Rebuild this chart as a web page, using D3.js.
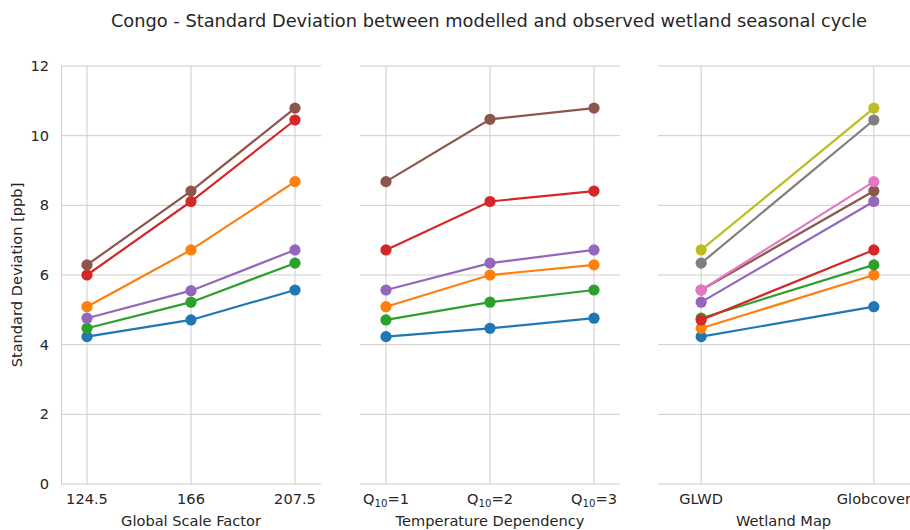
<!DOCTYPE html>
<html><head><meta charset="utf-8">
<script src="https://cdn.jsdelivr.net/npm/d3@7"></script>
<style>body{margin:0;background:#fff}svg{display:block}text{font-family:"DejaVu Sans",sans-serif;fill:#262626}</style>
</head><body><svg id="c" width="910" height="530"></svg>
<script>
const title = "Congo - Standard Deviation between modelled and observed wetland seasonal cycle";
const yLabel = "Standard Deviation [ppb]";
const yTicks = [0, 2, 4, 6, 8, 10, 12];
const colors = ["#1f77b4","#ff7f0e","#2ca02c","#d62728","#9467bd","#8c564b","#e377c2","#7f7f7f","#bcbd22"];

// Panel 1: Global Scale Factor
const p1Cats = ["124.5", "166", "207.5"];
const p1Series = [
  [4.23, 4.71, 5.57],
  [5.09, 6.72, 8.68],
  [4.47, 5.22, 6.34],
  [6.00, 8.11, 10.45],
  [4.76, 5.55, 6.72],
  [6.29, 8.41, 10.79]
];
// Panel 2: Temperature Dependency
const p2Cats = ["1", "2", "3"];
const p2Series = [
  [4.23, 4.47, 4.76],
  [5.09, 6.00, 6.29],
  [4.71, 5.22, 5.57],
  [6.72, 8.11, 8.41],
  [5.57, 6.34, 6.72],
  [8.68, 10.47, 10.79]
];
// Panel 3: Wetland Map
const p3Cats = ["GLWD", "Globcover"];
const p3Series = [
  [4.23, 5.09],
  [4.47, 6.00],
  [4.76, 6.29],
  [4.71, 6.72],
  [5.22, 8.11],
  [5.57, 8.41],
  [5.57, 8.68],
  [6.34, 10.45],
  [6.72, 10.79]
];
const panels = [
  {cats: p1Cats, series: p1Series, label: "Global Scale Factor", x0: 61, x1: 321, q: false},
  {cats: p2Cats, series: p2Series, label: "Temperature Dependency", x0: 360, x1: 620, q: true},
  {cats: p3Cats, series: p3Series, label: "Wetland Map", x0: 658, x1: 917, q: false}
];

const svg = d3.select("#c");
const y = d3.scaleLinear().domain([0, 12]).range([484, 66]);
const fs = "14.6px";

svg.append("text").attr("x", 489).attr("y", 27).attr("text-anchor", "middle")
  .style("font-size", "17.8px").text(title);

svg.append("text").attr("transform", "translate(22,275) rotate(-90)")
  .attr("text-anchor", "middle").style("font-size", fs).text(yLabel);

panels.forEach((p, pi) => {
  const x = d3.scalePoint().domain(p.cats).range([p.x0, p.x1]).padding(0.25);
  const g = svg.append("g");
  g.selectAll("line.h").data(yTicks).enter().append("line")
    .attr("x1", p.x0).attr("x2", Math.min(p.x1, 910)).attr("y1", d => y(d)).attr("y2", d => y(d))
    .attr("stroke", "#cccccc").attr("stroke-width", 1);
  g.selectAll("line.v").data(p.cats).enter().append("line")
    .attr("x1", d => x(d)).attr("x2", d => x(d)).attr("y1", 66).attr("y2", 484)
    .attr("stroke", "#cccccc").attr("stroke-width", 1);
  if (pi === 0) {
    g.append("line").attr("x1", p.x0 + 0.5).attr("x2", p.x0 + 0.5).attr("y1", 66).attr("y2", 484)
      .attr("stroke", "#cccccc");
    g.selectAll("text.yt").data(yTicks).enter().append("text")
      .attr("x", 49).attr("y", d => y(d)).attr("dy", "0.35em").attr("text-anchor", "end")
      .style("font-size", fs).text(d => d);
  }
  p.cats.forEach(c => {
    const t = g.append("text").attr("x", x(c)).attr("y", 504).attr("text-anchor", "middle")
      .style("font-size", fs);
    if (p.q) {
      t.append("tspan").text("Q");
      t.append("tspan").attr("dy", 3).style("font-size", "10.2px").text("10");
      t.append("tspan").attr("dy", -3).text("=" + c);
    } else t.text(c);
  });
  g.append("text").attr("x", (p.x0 + p.x1) / 2 + (pi === 2 ? -4 : 0)).attr("y", 526).attr("text-anchor", "middle")
    .style("font-size", fs).text(p.label);
  const line = d3.line().x((d, i) => x(p.cats[i])).y(d => y(d));
  p.series.forEach((s, si) => {
    g.append("path").datum(s).attr("d", line).attr("fill", "none")
      .attr("stroke", colors[si]).attr("stroke-width", 2.2);
    g.selectAll(null).data(s).enter().append("circle")
      .attr("cx", (d, i) => x(p.cats[i])).attr("cy", d => y(d)).attr("r", 5.6)
      .attr("fill", colors[si]);
  });
});
</script></body></html>
